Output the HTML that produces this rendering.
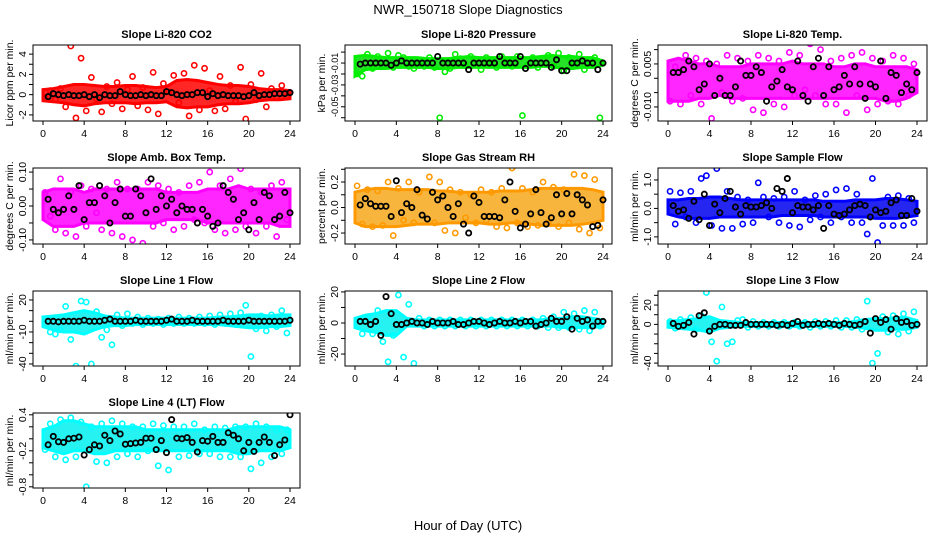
<!DOCTYPE html>
<html><head><meta charset="utf-8"><style>
body{margin:0;background:#fff;}
svg{display:block;font-family:"Liberation Sans",sans-serif;}
</style></head><body>
<svg id="c" width="936" height="540" xmlns="http://www.w3.org/2000/svg">
<text x="468" y="14" text-anchor="middle" font-size="13">NWR_150718  Slope Diagnostics</text>
<text x="468" y="530" text-anchor="middle" font-size="13">Hour of Day (UTC)</text>
</svg>
<script>
const xTicks=[0,4,8,12,16,20,24];
// Panel 1 CO2
const co2Lo=[-0.6,-0.7,-0.8,-1.0,-1.1,-0.9,-0.8,-0.8,-0.8,-0.9,-0.8,-0.8,-0.7,-1.2,-1.3,-1.2,-1.2,-1.0,-0.9,-0.9,-0.8,-0.6,-0.5,-0.5,-0.4];
const co2Hi=[0.5,0.6,0.8,1.0,1.0,0.9,0.8,0.8,0.9,0.9,0.8,0.7,0.8,1.4,1.5,1.4,1.2,1.0,0.9,0.9,0.8,0.6,0.5,0.5,0.4];
const co2Pts=[-0.3,0.4,-0.5,0.6,-1.2,4.8,-2.3,3.6,-1.6,1.7,-0.4,-1.7,0.8,-0.9,1.2,-1.4,0.5,1.8,-1.1,0.7,-1.5,2.2,-1.9,1.1,0.3,1.9,-0.8,2.1,-2.1,2.9,-1.5,2.6,0.4,-1.6,1.8,-1.4,0.9,-0.7,2.7,-2.4,1.0,-0.5,2.1,-1.2,0.6,-0.3,0.9,-0.2];
const co2Ref=[-0.2,0.1,0.0,-0.1,0.0,-0.1,-0.1,0.0,-0.2,0.0,-0.3,0.0,-0.1,-0.1,0.3,0.0,-0.1,-0.1,0.0,-0.1,0.0,-0.1,-0.1,0.3,0.2,0.0,-0.1,0.0,0.0,0.2,0.2,-0.2,0.1,-0.1,0.0,-0.1,-0.1,-0.1,-0.2,-0.1,0.2,-0.1,0.0,0.0,0.1,0.1,0.1,0.2];
// Panel 2 Pressure
const prsLo=[-0.022,-0.016,-0.015,-0.015,-0.014,-0.014,-0.014,-0.014,-0.015,-0.015,-0.014,-0.014,-0.014,-0.014,-0.014,-0.014,-0.014,-0.014,-0.013,-0.013,-0.015,-0.015,-0.014,-0.014,-0.012];
const prsHi=[-0.004,-0.003,-0.004,-0.005,-0.005,-0.005,-0.005,-0.006,-0.006,-0.006,-0.005,-0.004,-0.005,-0.005,-0.005,-0.005,-0.005,-0.005,-0.004,-0.003,-0.004,-0.004,-0.005,-0.005,-0.008];
const prsPts=[-0.020,-0.022,-0.002,-0.015,-0.004,-0.013,-0.001,-0.014,-0.003,-0.005,-0.013,-0.015,-0.012,-0.013,-0.005,-0.014,-0.060,-0.018,-0.015,-0.002,-0.006,-0.012,-0.004,-0.007,-0.016,-0.005,-0.008,-0.014,-0.004,-0.009,-0.013,-0.004,-0.058,-0.012,-0.005,-0.014,-0.006,-0.003,-0.013,-0.001,-0.017,-0.005,-0.010,-0.002,-0.016,-0.012,-0.005,-0.060];
const prsRef=[-0.011,-0.010,-0.010,-0.010,-0.010,-0.010,-0.012,-0.010,-0.008,-0.010,-0.010,-0.010,-0.010,-0.010,-0.010,-0.004,-0.010,-0.010,-0.010,-0.010,-0.010,-0.016,-0.010,-0.010,-0.010,-0.010,-0.010,-0.004,-0.010,-0.010,-0.010,-0.004,-0.015,-0.010,-0.010,-0.010,-0.010,-0.014,-0.007,-0.017,-0.017,-0.010,-0.010,-0.008,-0.010,-0.010,-0.016,-0.010];
// Panel 3 Li-820 Temp
const tmpLo=[-0.008,-0.008,-0.008,-0.007,-0.007,-0.006,-0.007,-0.007,-0.007,-0.007,-0.007,-0.007,-0.007,-0.007,-0.007,-0.007,-0.007,-0.007,-0.007,-0.007,-0.007,-0.008,-0.008,-0.007,-0.005];
const tmpHi=[0.006,0.007,0.006,0.005,0.005,0.004,0.004,0.004,0.005,0.005,0.005,0.005,0.006,0.005,0.005,0.005,0.004,0.004,0.005,0.005,0.004,0.004,0.004,0.004,0.003];
const tmpPts=[-0.008,0.004,-0.009,0.008,-0.006,0.007,-0.009,0.006,-0.014,0.005,-0.005,0.008,-0.008,0.007,-0.007,0.006,-0.011,0.008,-0.012,0.007,-0.009,0.006,-0.010,0.009,-0.006,0.008,-0.004,0.012,-0.006,0.010,-0.009,0.006,-0.009,0.007,-0.012,0.008,-0.006,0.009,-0.011,0.007,-0.009,0.006,-0.008,0.008,-0.009,0.007,-0.006,0.005];
const tmpRef=[0.002,0.002,0.003,0.006,0.004,-0.004,-0.002,0.005,-0.006,0.0,-0.006,-0.006,-0.003,0.006,0.001,0.001,0.004,0.002,-0.008,-0.003,-0.001,0.003,-0.003,-0.004,0.006,-0.006,-0.008,0.004,0.007,-0.006,0.004,-0.004,-0.003,0.001,-0.002,0.004,-0.002,-0.007,-0.002,-0.003,0.006,-0.007,0.002,0.001,-0.005,-0.002,-0.004,0.002];
// Panel 4 Amb Box Temp
const ambLo=[-0.04,-0.06,-0.06,-0.06,-0.05,-0.05,-0.05,-0.05,-0.05,-0.05,-0.05,-0.05,-0.04,-0.04,-0.04,-0.04,-0.05,-0.05,-0.05,-0.05,-0.05,-0.05,-0.05,-0.06,-0.06];
const ambHi=[0.04,0.05,0.05,0.05,0.04,0.05,0.05,0.05,0.05,0.05,0.05,0.05,0.04,0.04,0.04,0.04,0.05,0.05,0.05,0.06,0.05,0.05,0.05,0.05,0.05];
const ambPts=[0.04,-0.03,-0.07,0.08,-0.08,0.04,-0.09,0.06,-0.06,0.05,-0.02,-0.07,0.05,-0.08,0.07,-0.09,0.05,-0.10,0.05,-0.11,0.07,-0.06,0.06,-0.05,0.05,-0.07,0.04,-0.06,0.06,-0.04,0.07,-0.05,0.10,-0.07,0.06,-0.08,0.08,-0.07,0.11,-0.06,0.05,-0.08,0.04,-0.06,0.06,-0.09,0.07,-0.04];
const ambRef=[0.02,-0.01,-0.02,-0.01,0.03,-0.01,0.06,-0.04,0.01,0.01,0.06,0.03,-0.05,0.01,0.05,-0.03,-0.03,0.05,0.03,-0.02,0.08,-0.01,0.03,0.00,0.02,-0.02,0.00,-0.01,-0.01,-0.05,-0.01,-0.03,-0.06,-0.05,0.06,0.04,0.02,-0.04,-0.02,-0.07,0.01,-0.04,0.04,0.03,-0.04,-0.03,0.04,-0.02];
// Panel 5 Gas Stream RH
const rhLo=[-0.12,-0.15,-0.15,-0.15,-0.15,-0.14,-0.13,-0.13,-0.13,-0.12,-0.12,-0.12,-0.12,-0.13,-0.13,-0.12,-0.12,-0.13,-0.14,-0.14,-0.14,-0.14,-0.13,-0.12,-0.10];
const rhHi=[0.12,0.14,0.15,0.15,0.14,0.14,0.14,0.14,0.13,0.13,0.12,0.12,0.12,0.12,0.13,0.13,0.13,0.14,0.15,0.15,0.15,0.15,0.15,0.14,0.12];
const rhPts=[0.17,-0.13,0.14,-0.15,0.13,-0.14,0.20,-0.22,0.15,-0.10,0.20,-0.12,0.12,-0.31,0.24,-0.12,0.20,-0.18,0.14,-0.20,0.12,-0.08,0.10,-0.12,0.14,-0.10,0.12,-0.15,0.15,-0.16,0.31,-0.12,0.15,-0.15,0.12,-0.14,0.20,-0.12,0.16,-0.15,0.14,-0.12,0.26,-0.17,0.25,-0.20,0.22,-0.16];
const rhRef=[0.02,0.07,0.03,0.01,0.01,0.01,-0.07,0.21,-0.04,0.03,0.00,0.14,-0.06,-0.09,0.12,0.06,0.09,0.00,-0.07,0.03,-0.13,-0.20,0.09,0.04,-0.07,-0.07,-0.07,-0.08,0.06,0.20,-0.03,-0.16,-0.13,-0.05,0.14,-0.04,-0.13,-0.08,0.10,-0.05,0.11,-0.05,0.10,0.06,0.02,-0.15,-0.14,0.06];
// Panel 6 Sample Flow
const smpLo=[-0.2,-0.3,-0.35,-0.35,-0.35,-0.3,-0.3,-0.3,-0.3,-0.3,-0.3,-0.25,-0.25,-0.25,-0.25,-0.3,-0.3,-0.3,-0.3,-0.3,-0.35,-0.35,-0.35,-0.3,-0.25];
const smpHi=[0.3,0.3,0.35,0.35,0.4,0.4,0.35,0.3,0.3,0.3,0.3,0.3,0.3,0.3,0.3,0.25,0.25,0.25,0.3,0.3,0.3,0.35,0.35,0.3,0.25];
const smpPts=[0.6,-0.55,0.55,-0.3,0.6,-0.5,1.05,1.15,-0.6,1.4,-0.7,0.6,-0.7,0.4,-0.55,0.3,-0.5,0.9,0.4,-0.3,0.35,-0.5,0.4,-0.6,0.6,-0.65,0.3,-0.4,0.45,-0.3,0.5,-0.5,0.65,-0.3,0.7,-0.5,0.5,-0.5,-0.9,1.05,-1.2,-0.6,0.4,-0.6,0.45,-0.6,0.35,-0.5];
const smpRef=[0.1,-0.1,-0.05,-0.35,0.25,-0.4,0.5,-0.6,0.15,-0.15,0.35,0.6,0.05,-0.2,0.1,0.05,0.05,0.1,0.2,0.0,0.7,0.6,1.05,-0.15,0.1,0.05,0.05,-0.05,0.1,-0.7,0.1,-0.2,-0.25,-0.2,-0.05,0.1,0.15,0.1,-0.3,-0.05,-0.15,-0.1,0.2,0.3,-0.25,-0.25,0.35,-0.1];
// Panel 7 Line 1 Flow
const l1Lo=[-5,-8,-10,-10,-12,-8,-5,-4,-4,-3,-3,-3,-3,-3,-3,-3,-3,-3,-4,-5,-6,-6,-5,-5,-4];
const l1Hi=[4,5,6,8,10,8,5,4,3,3,3,3,3,3,3,3,3,4,4,5,6,6,5,6,6];
const l1Pts=[2,-10,-12,-8,14,-17,-42,19,18,-40,9,-15,-8,-22,6,-4,7,-2,4,-3,3,-2,2,-3,3,-2,4,-2,3,-2,4,-2,5,-3,6,-2,7,-3,8,15,-33,-7,5,-9,6,-5,10,-11];
const l1Ref=[0,0,-0.5,0,0,0,0,1,0,0,0,1,2,0,0,0,0,1,0,0,0,0,0,1,2,0,0,0,1,0,0,0,0,0,1,0,0,0,0,1,0,0,0,0,0,0,0,1];
// Panel 8 Line 2 Flow
const l2Lo=[-3,-5,-6,-8,-8,-2,-2,-2,-2,-2,-2,-2,-2,-2,-2,-2,-2,-2,-2,-2,-3,-3,-3,-3,-2];
const l2Hi=[3,5,6,8,8,3,2,2,2,2,2,2,2,2,2,2,2,2,2,3,3,4,4,3,2];
const l2Pts=[2,-7,4,-7,8,-12,-25,-8,18,-22,12,-26,3,-2,2,-2,2,-2,2,-2,2,-2,2,-2,2,-2,2,-2,2,-2,2,-2,2,-2,2,-2,3,-3,4,-3,7,-3,6,-4,8,-5,7,-2];
const l2Ref=[1,1,-1,1,-8,17,6,-1,-1,0,1,0,0,-1,1,0,0,0,1,-1,-1,0,1,1,0,-1,0,1,0,0,1,0,1,1,-2,-1,0,3,1,1,4,-4,3,1,2,-2,1,1];
// Panel 9 Line 3 Flow
const l3Lo=[-3,-4,-5,-6,-8,-4,-3,-2,-2,-2,-2,-2,-2,-2,-2,-2,-2,-2,-3,-4,-6,-6,-5,-5,-3];
const l3Hi=[3,4,5,6,8,4,3,2,2,2,2,2,2,2,2,2,2,2,3,5,6,6,7,7,4];
const l3Pts=[3,-4,5,-2,7,-5,9,33,-18,-38,18,-20,-18,4,5,-3,3,-2,2,-2,2,-2,2,-2,2,-2,2,-3,3,-2,3,-2,4,-3,4,-3,5,-5,24,-40,-30,8,-8,9,-10,11,-7,13];
const l3Ref=[1,-2,-1,2,-10,9,12,-7,-2,0,0,-1,-1,-1,2,0,0,0,0,0,-1,0,-1,1,3,-1,0,0,1,0,1,0,-1,1,0,-1,0,3,-9,6,2,5,-5,6,2,3,-1,0];
// Panel 10 Line 4 (LT) Flow
const l4Lo=[-0.15,-0.2,-0.25,-0.2,-0.2,-0.25,-0.25,-0.2,-0.2,-0.2,-0.2,-0.2,-0.2,-0.2,-0.2,-0.2,-0.2,-0.2,-0.2,-0.25,-0.25,-0.2,-0.2,-0.2,-0.15];
const l4Hi=[0.15,0.2,0.3,0.3,0.25,0.2,0.2,0.2,0.2,0.2,0.15,0.15,0.15,0.15,0.15,0.15,0.15,0.15,0.15,0.2,0.2,0.2,0.2,0.2,0.15];
const l4Pts=[-0.18,0.25,-0.3,0.32,-0.35,0.35,-0.3,0.28,-0.8,0.2,-0.38,0.25,-0.4,0.3,-0.3,0.25,-0.25,0.2,-0.3,0.2,-0.2,0.25,-0.45,0.22,-0.52,0.2,-0.3,0.2,-0.28,0.25,-0.25,0.15,-0.25,0.2,-0.3,0.18,-0.3,0.2,-0.3,0.2,-0.5,0.25,-0.4,0.2,-0.3,0.15,-0.25,0.15];
const l4Ref=[-0.1,0.04,-0.05,-0.06,0.0,0.01,0.03,-0.27,-0.18,-0.1,-0.12,0.06,-0.03,0.13,0.08,-0.09,-0.08,-0.07,-0.06,0.01,0.01,-0.18,-0.03,-0.23,0.32,0.01,0.0,0.02,-0.06,-0.22,-0.03,-0.04,0.04,-0.06,-0.06,0.1,0.06,0.0,-0.2,-0.06,-0.21,-0.06,0.03,-0.06,-0.28,-0.1,-0.02,0.4];

const NS='http://www.w3.org/2000/svg';
const svg=document.getElementById('c');
function mk(tag,attrs,parent){const e=document.createElementNS(NS,tag);for(const k in attrs)e.setAttribute(k,attrs[k]);(parent||svg).appendChild(e);return e;}
const cols=[{L:33,R:300,x0:43,x24:290},{L:345,R:612,x0:355,x24:603},{L:658,R:927,x0:668,x24:917}];
const rows=[{T:45,B:121},{T:168,B:244},{T:291,B:366},{T:413,B:488}];
const panels=[
 {id:'co2',title:'Slope Li-820 CO2',ylab:'Licor ppm per min.',r:0,c:0,ymin:-2.6,ymax:4.9,ticks:[-2,-1,0,1,2,3,4],labels:[-2,0,2,4],lf:v=>String(v),fs:10.5,col:'#ff0000',band:'#ff0000',lo:co2Lo,hi:co2Hi,pts:co2Pts,ref:co2Ref},
 {id:'pressure',title:'Slope Li-820 Pressure',ylab:'kPa per min.',r:0,c:1,ymin:-0.063,ymax:0.0065,ticks:[0,-0.01,-0.02,-0.03,-0.04,-0.05,-0.06],labels:[-0.01,-0.03,-0.05],lf:v=>v.toFixed(2),fs:9,col:'#00ee00',band:'#00dd00',lo:prsLo,hi:prsHi,pts:prsPts,ref:prsRef},
 {id:'li820-temp',title:'Slope Li-820 Temp.',ylab:'degrees C per min.',r:0,c:2,ymin:-0.0149,ymax:0.0116,ticks:[-0.01,-0.005,0,0.005,0.01],labels:[-0.01,0.005],lf:v=>v.toFixed(3),fs:10.5,col:'#ff00ff',band:'#ff00ff',lo:tmpLo,hi:tmpHi,pts:tmpPts,ref:tmpRef},
 {id:'amb-box-temp',title:'Slope Amb. Box Temp.',ylab:'degrees C per min.',r:1,c:0,ymin:-0.112,ymax:0.112,ticks:[-0.1,-0.05,0,0.05,0.1],labels:[-0.1,0,0.1],lf:v=>v.toFixed(2),fs:10.5,col:'#ff00ff',band:'#ff00ff',lo:ambLo,hi:ambHi,pts:ambPts,ref:ambRef},
 {id:'gas-stream-rh',title:'Slope Gas Stream RH',ylab:'percent per min.',r:1,c:1,ymin:-0.286,ymax:0.31,ticks:[-0.3,-0.2,-0.1,0,0.1,0.2,0.3],labels:[-0.2,0,0.2],lf:v=>v.toFixed(1),fs:10.5,col:'#ff9900',band:'#f7a81c',lo:rhLo,hi:rhHi,pts:rhPts,ref:rhRef},
 {id:'sample-flow',title:'Slope Sample Flow',ylab:'ml/min per min.',r:1,c:2,ymin:-1.25,ymax:1.42,ticks:[-1,-0.5,0,0.5,1],labels:[-1,0,1],lf:v=>v.toFixed(1),fs:10.5,col:'#0000ff',band:'#0000ee',lo:smpLo,hi:smpHi,pts:smpPts,ref:smpRef},
 {id:'line1-flow',title:'Slope Line 1 Flow',ylab:'ml/min per min.',r:2,c:0,ymin:-41.9,ymax:28.4,ticks:[-40,-30,-20,-10,0,10,20],labels:[-40,-10,20],lf:v=>String(v),fs:10.5,col:'#00ffff',band:'#00f0f0',lo:l1Lo,hi:l1Hi,pts:l1Pts,ref:l1Ref},
 {id:'line2-flow',title:'Slope Line 2 Flow',ylab:'ml/min per min.',r:2,c:1,ymin:-27.7,ymax:20.6,ticks:[-20,-10,0,10,20],labels:[-20,0,20],lf:v=>String(v),fs:10.5,col:'#00ffff',band:'#00f0f0',lo:l2Lo,hi:l2Hi,pts:l2Pts,ref:l2Ref},
 {id:'line3-flow',title:'Slope Line 3 Flow',ylab:'ml/min per min.',r:2,c:2,ymin:-43,ymax:34.5,ticks:[-40,-30,-20,-10,0,10,20,30],labels:[-40,0,20],lf:v=>String(v),fs:10.5,col:'#00ffff',band:'#00f0f0',lo:l3Lo,hi:l3Hi,pts:l3Pts,ref:l3Ref},
 {id:'line4-flow',title:'Slope Line 4 (LT) Flow',ylab:'ml/min per min.',r:3,c:0,ymin:-0.82,ymax:0.43,ticks:[-0.8,-0.6,-0.4,-0.2,0,0.2,0.4],labels:[-0.8,-0.2,0.4],lf:v=>v.toFixed(1),fs:10.5,col:'#00ffff',band:'#00f0f0',lo:l4Lo,hi:l4Hi,pts:l4Pts,ref:l4Ref}
];
panels.forEach(p=>{
 const C=cols[p.c],R=rows[p.r];
 const g=mk('g',{});
 
 
 const xs=h=>C.x0+(C.x24-C.x0)*h/24;
 const ys=v=>R.B-(v-p.ymin)/(p.ymax-p.ymin)*(R.B-R.T);
 const clip='clip-'+p.id;
 const cp=mk('clipPath',{id:clip},g);mk('rect',{x:C.L,y:R.T,width:C.R-C.L,height:R.B-R.T},cp);
 const t=mk('text',{x:(C.L+C.R)/2,y:R.T-7,'text-anchor':'middle','font-size':11,'font-weight':'bold'},g);
 t.textContent=p.title;
 
 
 const yl=mk('text',{transform:`translate(${C.L-20},${(R.T+R.B)/2}) rotate(-90)`,'text-anchor':'middle','font-size':10.5},g);
 yl.textContent=p.ylab;
 
 
 const d=p.lo.map((v,i)=>[xs(i*24/(p.lo.length-1)),ys(v)]);
 const u=p.hi.map((v,i)=>[xs(i*24/(p.hi.length-1)),ys(v)]).reverse();
 const band=mk('polygon',{points:d.concat(u).map(q=>q.join(',')).join(' '),fill:p.band,'fill-opacity':0.85,stroke:p.col,'stroke-width':3,'clip-path':`url(#${clip})`},g);
 
 
 p.pts.forEach((v,i)=>{
  const c=mk('circle',{cx:xs(i*24/p.pts.length+0.2),cy:ys(v),r:2.6,fill:'none',stroke:p.col,'stroke-width':1.6,'clip-path':`url(#${clip})`},g);
  
  
 });
 p.ref.forEach((v,i)=>{
  const c=mk('circle',{cx:xs((i+1)*24/p.ref.length),cy:ys(v),r:2.6,fill:'none',stroke:'#000','stroke-width':1.8,'clip-path':`url(#${clip})`},g);
  
  
 });
 const fr=mk('rect',{x:C.L,y:R.T,width:C.R-C.L,height:R.B-R.T,fill:'none',stroke:'#000','stroke-width':1},g);
 
 
 xTicks.forEach(h=>{
  mk('line',{x1:xs(h),x2:xs(h),y1:R.B,y2:R.B+4,stroke:'#000'},g);
  const tl=mk('text',{x:xs(h),y:R.B+16,'text-anchor':'middle','font-size':10.5},g);
  tl.textContent=h;
  
  
 });
 p.ticks.forEach(v=>{
  const y=ys(v);if(y<R.T-1||y>R.B+1)return;
  mk('line',{x1:C.L-4,x2:C.L,y1:y,y2:y,stroke:'#000'},g);
 });
 p.labels.forEach(v=>{
  const tl=mk('text',{transform:`translate(${C.L-7},${ys(v)}) rotate(-90)`,'text-anchor':'middle','font-size':p.fs},g);
  tl.textContent=p.lf(v);
  
  
 });
});
</script>
</body></html>
